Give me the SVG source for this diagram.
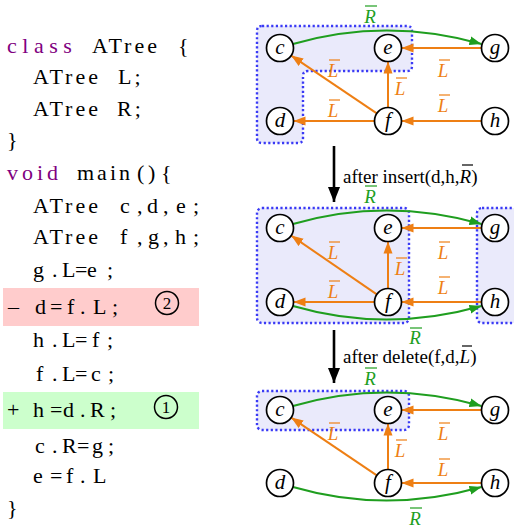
<svg xmlns="http://www.w3.org/2000/svg" width="514" height="528" viewBox="0 0 514 528">
<style>
.code{font-family:"Liberation Serif",serif;font-size:22px;fill:#000;letter-spacing:3px}
.kw{fill:#800080;letter-spacing:5.5px}
.node circle{fill:#fff;stroke:#000;stroke-width:1.7}
.node text{font-family:"Liberation Serif",serif;font-style:italic;font-size:21px;text-anchor:middle}
.or{stroke:#ee7f14;stroke-width:2;fill:none}
.gr{stroke:#1f9e1f;stroke-width:2;fill:none}
.bk{stroke:#000;stroke-width:2.6;fill:none}
.lbl{font-family:"Liberation Serif",serif;font-style:italic;font-size:19px;text-anchor:middle}
.lo text{fill:#ee7f14}.lo line{stroke:#ee7f14;stroke-width:1.2}
.lg text{fill:#1f9e1f}.lg line{stroke:#1f9e1f;stroke-width:1.2}
.region{fill:#eaeafb;stroke:#3a3af5;stroke-width:2.4;stroke-dasharray:2.2 2.4}
.cap{font-family:"Liberation Serif",serif;font-size:19px;fill:#000}
.num circle{fill:none;stroke:#000;stroke-width:1.5}
.num text{font-family:"Liberation Serif",serif;font-size:17px;text-anchor:middle}
</style>
<defs>
<marker id="ao" markerUnits="userSpaceOnUse" markerWidth="13" markerHeight="10" refX="12" refY="5" orient="auto"><path d="M0,0.5 L12,5 L0,9.5 Z" fill="#ee7f14"/></marker>
<marker id="ag" markerUnits="userSpaceOnUse" markerWidth="13" markerHeight="10" refX="12" refY="5" orient="auto"><path d="M0,0.5 L12,5 L0,9.5 Z" fill="#1f9e1f"/></marker>
<marker id="ab" markerUnits="userSpaceOnUse" markerWidth="16" markerHeight="13" refX="15" refY="6.5" orient="auto"><path d="M0,0.5 L15,6.5 L0,12.5 Z" fill="#000"/></marker>
</defs>

<!-- code listing -->
<g id="code">
<rect x="3" y="288" width="196" height="38" fill="#ffcccc"/>
<rect x="3" y="392" width="196" height="37" fill="#ccffcc"/>
<text class="code" y="53"><tspan class="kw" x="7">class</tspan><tspan x="92">ATree</tspan><tspan x="178">{</tspan></text>
<text class="code" y="84"><tspan x="33">ATree</tspan><tspan x="118">L;</tspan></text>
<text class="code" y="116"><tspan x="33">ATree</tspan><tspan x="117">R;</tspan></text>
<text class="code" y="147" x="7">}</text>
<text class="code" y="180"><tspan class="kw" x="7" style="letter-spacing:4px">void</tspan><tspan x="77">main</tspan><tspan x="137">(</tspan><tspan x="148">)</tspan><tspan x="161">{</tspan></text>
<text class="code" y="213"><tspan x="33">ATree</tspan><tspan x="120 137 147 163 176 193">c,d,e;</tspan></text>
<text class="code" y="244"><tspan x="33">ATree</tspan><tspan x="120 137 148 163 175 193">f,g,h;</tspan></text>
<text class="code" y="277" x="33 52 62 75 87 107">g.L=e;</text>
<text class="code" y="314" x="8 22 35 50 67 80 93 112">– d=f.L;</text>
<text class="code" y="347" x="33 52 62 75 92 107">h.L=f;</text>
<text class="code" y="381" x="36 52 62 75 91 108">f.L=c;</text>
<text class="code" y="417" x="7 22 33 50 63 80 90 110">+ h=d.R;</text>
<text class="code" y="453" x="35 52 62 77 92 108">c.R=g;</text>
<text class="code" y="483" x="33 50 66 80 93">e=f.L</text>
<text class="code" y="515" x="7">}</text>
<g class="num"><circle cx="167" cy="303" r="11.5"/><text x="167" y="309">2</text></g>
<g class="num"><circle cx="166" cy="407" r="11.5"/><text x="166" y="413">1</text></g>
</g>

<!-- regions -->
<g id="regions">
<path class="region" d="M262,26 H407 Q412,26 412,31 V66 Q412,71 407,71 H308 Q303,71 303,76 V138 Q303,143 298,143 H262 Q257,143 257,138 V31 Q257,26 262,26 Z"/>
<rect class="region" x="257" y="208" width="152" height="115" rx="5"/>
<rect class="region" x="477" y="208" width="50" height="115" rx="5"/>
<rect class="region" x="257" y="391" width="152" height="39" rx="5"/>
</g>

<!-- connectors -->
<g id="connectors">
<!-- panel 1 -->
<path class="gr" marker-end="url(#ag)" d="M293,44 Q386,17 481.5,44"/>
<path class="or" marker-end="url(#ao)" d="M481.5,48 H401.5"/>
<path class="or" marker-end="url(#ao)" d="M376.8,113.4 L291.2,55.6"/>
<path class="or" marker-end="url(#ao)" d="M388,107.5 V61.5"/>
<path class="or" marker-end="url(#ao)" d="M374.5,121 H293.5"/>
<path class="or" marker-end="url(#ao)" d="M481.5,121 H401.5"/>
<!-- panel 2 -->
<path class="gr" marker-end="url(#ag)" d="M293,224 Q386,197 481.5,224"/>
<path class="gr" marker-end="url(#ag)" d="M293,306 Q386,333 481.5,306"/>
<path class="or" marker-end="url(#ao)" d="M481.5,228 H401.5"/>
<path class="or" marker-end="url(#ao)" d="M376.8,294.4 L291.2,235.6"/>
<path class="or" marker-end="url(#ao)" d="M388,288.5 V241.5"/>
<path class="or" marker-end="url(#ao)" d="M374.5,302 H293.5"/>
<path class="or" marker-end="url(#ao)" d="M481.5,302 H401.5"/>
<!-- panel 3 -->
<path class="gr" marker-end="url(#ag)" d="M293,406 Q386,379 481.5,406"/>
<path class="gr" marker-end="url(#ag)" d="M293,487 Q386,514 481.5,487"/>
<path class="or" marker-end="url(#ao)" d="M481.5,410 H401.5"/>
<path class="or" marker-end="url(#ao)" d="M376.8,475.4 L291.2,417.6"/>
<path class="or" marker-end="url(#ao)" d="M388,469.5 V423.5"/>
<path class="or" marker-end="url(#ao)" d="M481.5,483 H401.5"/>
<!-- transitions -->
<path class="bk" marker-end="url(#ab)" d="M334,146 V202"/>
<path class="bk" marker-end="url(#ab)" d="M334,330 V383"/>
</g>

<!-- edge labels -->
<g id="labels" class="lbl">
<g class="lg"><text x="370" y="23">R</text><line x1="365" y1="6" x2="377" y2="6"/></g>
<g class="lo"><text x="333" y="77">L</text><line x1="329" y1="60" x2="340" y2="60"/></g>
<g class="lo"><text x="333" y="117">L</text><line x1="329" y1="100" x2="340" y2="100"/></g>
<g class="lo"><text x="400" y="95">L</text><line x1="396" y1="78" x2="407" y2="78"/></g>
<g class="lo"><text x="443" y="77">L</text><line x1="439" y1="60" x2="450" y2="60"/></g>
<g class="lo"><text x="443" y="112">L</text><line x1="439" y1="95" x2="450" y2="95"/></g>

<g class="lg"><text x="370" y="203">R</text><line x1="365" y1="186" x2="377" y2="186"/></g>
<g class="lo"><text x="333" y="259">L</text><line x1="329" y1="242" x2="340" y2="242"/></g>
<g class="lo"><text x="333" y="298">L</text><line x1="329" y1="281" x2="340" y2="281"/></g>
<g class="lo"><text x="400" y="275">L</text><line x1="396" y1="258" x2="407" y2="258"/></g>
<g class="lo"><text x="443" y="259">L</text><line x1="439" y1="242" x2="450" y2="242"/></g>
<g class="lo"><text x="443" y="294">L</text><line x1="439" y1="277" x2="450" y2="277"/></g>
<g class="lg"><text x="415" y="344">R</text><line x1="410" y1="328" x2="422" y2="328"/></g>

<g class="lg"><text x="370" y="385">R</text><line x1="365" y1="368" x2="377" y2="368"/></g>
<g class="lo"><text x="333" y="440">L</text><line x1="329" y1="423" x2="340" y2="423"/></g>
<g class="lo"><text x="400" y="457">L</text><line x1="396" y1="440" x2="407" y2="440"/></g>
<g class="lo"><text x="443" y="440">L</text><line x1="439" y1="423" x2="450" y2="423"/></g>
<g class="lo"><text x="443" y="476">L</text><line x1="439" y1="459" x2="450" y2="459"/></g>
<g class="lg"><text x="415" y="525">R</text><line x1="410" y1="508" x2="422" y2="508"/></g>
</g>

<!-- captions -->
<g id="cap1"><text class="cap" x="343" y="183">after insert(d,h,<tspan font-style="italic">R</tspan>)</text><line x1="462" y1="165" x2="473" y2="165" stroke="#000" stroke-width="1.2"/></g>
<g id="cap2"><text class="cap" x="343" y="363">after delete(f,d,<tspan font-style="italic">L</tspan>)</text><line x1="462" y1="346" x2="472" y2="346" stroke="#000" stroke-width="1.2"/></g>

<!-- nodes panel 1 -->
<g id="p1-c" class="node"><circle cx="280" cy="48" r="13.5"/><text x="280" y="54">c</text></g>
<g id="p1-e" class="node"><circle cx="388" cy="48" r="13.5"/><text x="388" y="54">e</text></g>
<g id="p1-g" class="node"><circle cx="495" cy="48" r="13.5"/><text x="495" y="54">g</text></g>
<g id="p1-d" class="node"><circle cx="280" cy="121" r="13.5"/><text x="280" y="127">d</text></g>
<g id="p1-f" class="node"><circle cx="388" cy="121" r="13.5"/><text x="388" y="127">f</text></g>
<g id="p1-h" class="node"><circle cx="495" cy="121" r="13.5"/><text x="495" y="127">h</text></g>
<!-- nodes panel 2 -->
<g id="p2-c" class="node"><circle cx="280" cy="228" r="13.5"/><text x="280" y="234">c</text></g>
<g id="p2-e" class="node"><circle cx="388" cy="228" r="13.5"/><text x="388" y="234">e</text></g>
<g id="p2-g" class="node"><circle cx="495" cy="228" r="13.5"/><text x="495" y="234">g</text></g>
<g id="p2-d" class="node"><circle cx="280" cy="302" r="13.5"/><text x="280" y="308">d</text></g>
<g id="p2-f" class="node"><circle cx="388" cy="302" r="13.5"/><text x="388" y="308">f</text></g>
<g id="p2-h" class="node"><circle cx="495" cy="302" r="13.5"/><text x="495" y="308">h</text></g>
<!-- nodes panel 3 -->
<g id="p3-c" class="node"><circle cx="280" cy="410" r="13.5"/><text x="280" y="416">c</text></g>
<g id="p3-e" class="node"><circle cx="388" cy="410" r="13.5"/><text x="388" y="416">e</text></g>
<g id="p3-g" class="node"><circle cx="495" cy="410" r="13.5"/><text x="495" y="416">g</text></g>
<g id="p3-d" class="node"><circle cx="280" cy="483" r="13.5"/><text x="280" y="489">d</text></g>
<g id="p3-f" class="node"><circle cx="388" cy="483" r="13.5"/><text x="388" y="489">f</text></g>
<g id="p3-h" class="node"><circle cx="495" cy="483" r="13.5"/><text x="495" y="489">h</text></g>
</svg>
